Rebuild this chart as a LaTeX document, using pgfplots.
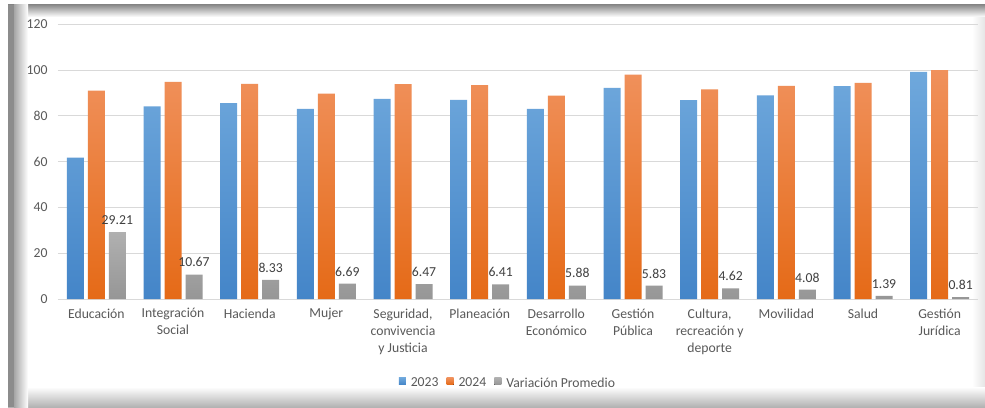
\documentclass[border=0pt]{standalone}
\usepackage{pgfplots}
\pgfplotsset{compat=1.18}
\usepackage{pgfplotstable}
\usepackage{fontspec}
\setmainfont{Carlito}
\definecolor{txt}{HTML}{595959}
\definecolor{lbl}{HTML}{404040}
\definecolor{gridc}{HTML}{D9D9D9}
\definecolor{bluetop}{HTML}{6FA8DC}
\definecolor{bluebot}{HTML}{4485C8}
\definecolor{orgtop}{HTML}{F0915C}
\definecolor{orgbot}{HTML}{E56A17}
\definecolor{graytop}{HTML}{B0B0B0}
\definecolor{graybot}{HTML}{969696}

\pgfplotstableread{
x y23 y24 var
0 61.80 91.01 29.21
1 84.20 94.87 10.67
2 85.60 93.93 8.33
3 83.00 89.69 6.69
4 87.40 93.87 6.47
5 87.00 93.41 6.41
6 83.00 88.88 5.88
7 92.20 98.03 5.83
8 86.90 91.52 4.62
9 89.00 93.08 4.08
10 93.00 94.39 1.39
11 99.20 100.01 0.81
}\data

\begin{document}
\begin{tikzpicture}
\useasboundingbox (0,0) rectangle (985pt,407pt);
\fill[white] (0,0) rectangle (985pt,407pt);
\shade[left color=white, right color=black!10] (972pt,0pt) rectangle (985pt,402pt);
\shade[bottom color=black!30, top color=white] (8pt,0pt) rectangle (985pt,20pt);
\shade[top color=black!45, bottom color=white] (8pt,390pt) rectangle (985pt,402pt);
\shade[left color=black!35, right color=white] (14pt,0pt) rectangle (28pt,402pt);
\fill[black!45] (8pt,0pt) rectangle (14pt,402pt);
\begin{axis}[
  at={(58pt,108pt)}, anchor=south west,
  scale only axis, width=920pt, height=274.7pt,
  xmin=-0.5, xmax=11.5, ymin=0, ymax=120,
  ytick={0,20,...,120},
  xtick={0,...,11},
  xticklabels={Educación,{Integración\\Social},Hacienda,Mujer,{Seguridad,\\convivencia\\y Justicia},Planeación,{Desarrollo\\Económico},{Gestión\\Pública},{Cultura,\\recreación y\\deporte},Movilidad,Salud,{Gestión\\Jurídica}},
  axis line style={draw=none},
  ymajorgrids, grid style={draw=gridc, line width=0.8pt},
  major tick length=0,
  tick label style={font=\fontsize{13.7}{17}\selectfont, text=txt},
  /pgf/number format/assume math mode=true,
  xticklabel style={align=center, yshift=-6pt, anchor=north},
  yticklabel style={xshift=-7pt},
  ybar=4pt, bar width=17pt,
  legend style={at={(0.489,-0.306)}, anchor=center, draw=none, fill=none,
    legend columns=-1, font=\fontsize{13.7}{15}\selectfont, text=txt},
  legend image code/.code={\fill[#1] (0pt,-1.5pt) rectangle (7pt,5.5pt);},
]
\addplot[draw=none, top color=bluetop, bottom color=bluebot] table[x=x,y=y23]{\data};
\addlegendentry{\hspace*{3pt}2023\hspace*{6pt}\mbox{}}
\addplot[draw=none, top color=orgtop, bottom color=orgbot] table[x=x,y=y24]{\data};
\addlegendentry{\hspace*{3pt}2024\hspace*{6pt}\mbox{}}
\addplot[draw=none, top color=graytop, bottom color=graybot,
  point meta=explicit,
  nodes near coords={\pgfmathprintnumber[fixed,fixed zerofill,precision=2]{\pgfplotspointmeta}},
  nodes near coords style={font=\fontsize{13.7}{15}\selectfont, text=lbl, yshift=4pt}]
  table[x=x,y=var,meta=var]{\data};
\addlegendentry{\hspace*{3pt}Variación Promedio}
\end{axis}
\end{tikzpicture}
\end{document}
